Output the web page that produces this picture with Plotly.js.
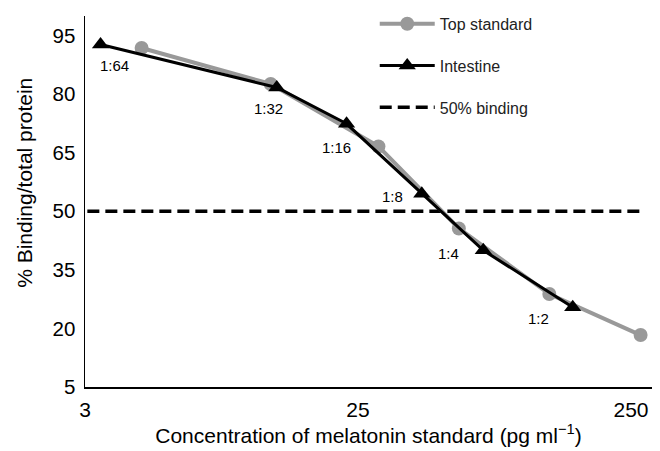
<!DOCTYPE html>
<html>
<head>
<meta charset="utf-8">
<script src="https://cdn.plot.ly/plotly-3.0.1.min.js"></script>
<style>html,body{margin:0;padding:0;background:#fff;}#chart{width:660px;height:451px;}</style>
</head>
<body>
<div id="chart"></div>
<script>
// Data
const stdX = [4.03, 11.97, 29.7, 58.5, 125.5, 271];
const stdY = [91.8, 82.6, 66.6, 45.6, 28.8, 18.3];
const intX = [2.85, 12.6, 22.7, 42.8, 71.9, 152.9];
const intY = [92.7, 81.7, 72.4, 54.5, 40.0, 25.4];
const dilutionLabels = ['1:64', '1:32', '1:16', '1:8', '1:4', '1:2'];
const refX = [2.55, 271];
const refY = [50, 50];
const xTickVals = [2.5, 25, 250];
const xTickText = ['3', '25', '250'];
const yTickVals = [5, 20, 35, 50, 65, 80, 95];

// label offsets (style only)
const labelShift = [[14, -21], [-8, -21], [-10, -24], [-29, -3], [-35, -3], [-34, -11]];

const FONT = 'Liberation Sans, Arial, sans-serif';

const traces = [
  {
    x: refX, y: refY, mode: 'lines', name: '50% binding',
    line: {color: '#000', width: 3.5, dash: '12px,6px'},
    legendgroup: 'c', legendrank: 3, hoverinfo: 'skip'
  },
  {
    x: stdX, y: stdY, mode: 'lines+markers', name: 'Top standard',
    line: {color: '#999999', width: 4},
    marker: {symbol: 'circle', size: 14, color: '#999999'},
    legendgroup: 'a', legendrank: 1
  },
  {
    x: intX, y: intY, mode: 'lines+markers', name: 'Intestine',
    line: {color: '#000', width: 3},
    marker: {symbol: 'triangle-up', size: 15, color: '#000'},
    legendgroup: 'b', legendrank: 2
  }
];

const annotations = dilutionLabels.map((t, i) => ({
  x: Math.log10(intX[i]), y: intY[i], xref: 'x', yref: 'y',
  text: t, showarrow: false,
  xshift: labelShift[i][0], yshift: labelShift[i][1],
  font: {family: FONT, size: 15, color: '#000'}
}));

annotations.push({
  xref: 'paper', yref: 'paper', x: -0.106, y: 0.55,
  xanchor: 'center', yanchor: 'middle', textangle: -90, showarrow: false,
  text: '% Binding/total protein',
  font: {family: FONT, size: 21, color: '#000'}
});

const layout = {
  width: 660, height: 451,
  margin: {l: 85, r: 8, t: 15, b: 64},
  paper_bgcolor: '#fff', plot_bgcolor: '#fff',
  font: {family: FONT, color: '#000'},
  showlegend: true,
  legend: {
    x: 0.511, y: 1.022, xanchor: 'left', yanchor: 'top',
    font: {family: FONT, size: 16, color: '#222'},
    bgcolor: 'rgba(0,0,0,0)', tracegroupgap: 18, itemwidth: 55,
    traceorder: 'grouped'
  },
  xaxis: {
    type: 'log',
    range: [Math.log10(2.5), Math.log10(2.5) + 2.0768],
    tickvals: xTickVals, ticktext: xTickText,
    ticks: '', showgrid: false, zeroline: false,
    showline: true, linecolor: '#000', linewidth: 1.5,
    tickfont: {family: FONT, size: 21, color: '#000'},
    ticklabelstandoff: 3,
    title: {text: 'Concentration of melatonin standard (pg ml<sup>\u22121</sup>)',
            font: {family: FONT, size: 21, color: '#000'}, standoff: 8}
  },
  yaxis: {
    range: [5, 100],
    tickvals: yTickVals,
    ticks: '', showgrid: false, zeroline: false,
    showline: true, linecolor: '#000', linewidth: 1.5,
    tickfont: {family: FONT, size: 20.5, color: '#000'},
    ticklabelstandoff: 4
  },
  annotations: annotations
};

Plotly.newPlot('chart', traces, layout, {displayModeBar: false, staticPlot: true});
</script>
</body>
</html>
